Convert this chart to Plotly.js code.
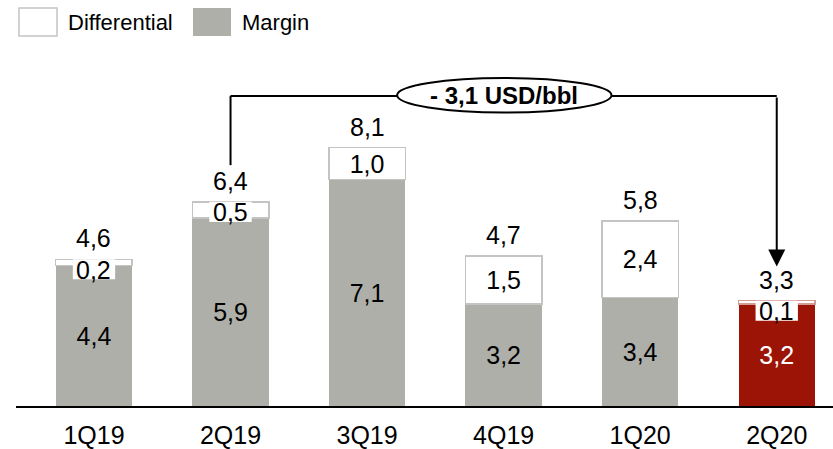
<!DOCTYPE html>
<html>
<head>
<meta charset="utf-8">
<script src="https://cdn.plot.ly/plotly-3.0.1.min.js"></script>
<style>html,body{margin:0;padding:0;background:#fff;}#chart{width:833px;height:449px;}</style>
</head>
<body>
<div id="chart"></div>
<script>
const categories = ['1Q19', '2Q19', '3Q19', '4Q19', '1Q20', '2Q20'];
const margin = [4.4, 5.9, 7.1, 3.2, 3.4, 3.2];
const differential = [0.2, 0.5, 1.0, 1.5, 2.4, 0.1];
const changeLabel = '- 3,1 USD/bbl';
const legendLabels = ['Differential', 'Margin'];

const FONT = "'Liberation Sans Narrow', 'Arial Narrow', 'Liberation Sans', Arial, sans-serif";
const FS = 25;
const GREY = '#aeafa9';
const RED = '#9c1406';
const fmt = v => v.toFixed(1).replace('.', ',');
const totals = margin.map((m, i) => Math.round((m + differential[i]) * 10) / 10);
const last = categories.length - 1;
const SMALL = 0.8;

const marginTrace = {
  type: 'bar', x: categories, y: margin, name: legendLabels[1],
  marker: { color: margin.map((_, i) => i === last ? RED : GREY), line: { width: 0 } },
  text: margin.map(fmt), textposition: 'inside', insidetextanchor: 'middle', textangle: 0,
  constraintext: 'none',
  textfont: { family: FONT, size: FS, color: margin.map((_, i) => i === last ? '#ffffff' : '#000000') },
  hoverinfo: 'skip'
};
const diffTrace = {
  type: 'bar', x: categories, y: differential, name: legendLabels[0],
  marker: { color: '#ffffff', line: { width: 1.5, color: differential.map((_, i) => i === last ? '#d49a94' : '#c4c4c4') } },
  text: differential.map(v => v < SMALL ? '' : fmt(v)), textposition: 'inside', insidetextanchor: 'middle', textangle: 0,
  constraintext: 'none',
  textfont: { family: FONT, size: FS, color: '#000000' },
  hoverinfo: 'skip'
};

const shapes = [];
const annotations = [];
// white label boxes for small differential values
differential.forEach((v, i) => {
  if (v < SMALL) {
    shapes.push({ type: 'rect', xref: 'x', yref: 'y', x0: i - 0.155, x1: i + 0.155,
      y0: totals[i] - 0.63, y1: totals[i], fillcolor: '#ffffff', line: { width: 0 }, layer: 'above' });
    annotations.push({ x: i, y: totals[i] - 0.33, xref: 'x', yref: 'y', text: fmt(v), showarrow: false,
      font: { family: FONT, size: FS, color: '#000' } });
  }
});
// totals
totals.forEach((t, i) => {
  annotations.push({ x: i, y: t, xref: 'x', yref: 'y', text: fmt(t), showarrow: false, yanchor: 'middle', yshift: 21,
    font: { family: FONT, size: FS, color: '#000' } });
});
// bracket from 2Q19 to 2Q20
const yTop = 9.72;
shapes.push({ type: 'line', xref: 'x', yref: 'y', x0: 1, x1: 1, y0: totals[1] + 1.15, y1: yTop, line: { color: '#000', width: 2 } });
shapes.push({ type: 'line', xref: 'x', yref: 'y', x0: 1, x1: last, y0: yTop, y1: yTop, line: { color: '#000', width: 2 } });
annotations.push({ x: last, y: totals[last] + 1.07, xref: 'x', yref: 'y', ax: last, ay: yTop, axref: 'x', ayref: 'y',
  text: '', showarrow: true, arrowhead: 2, arrowsize: 1.7, arrowwidth: 2, arrowcolor: '#000' });
shapes.push({ type: 'circle', xref: 'x', yref: 'y', x0: 2.22, x1: 3.79, y0: 9.2, y1: 10.28,
  fillcolor: '#ffffff', line: { color: '#000', width: 2 }, layer: 'above' });
annotations.push({ x: 3.0, y: 9.74, xref: 'x', yref: 'y', text: '<b>' + changeLabel + '</b>', showarrow: false,
  font: { family: FONT, size: 24, color: '#000' } });

// custom legend
const PW = 817, PH = 386;
const px = p => (p - 16) / PW;
const py = p => (406 - p) / PH;
shapes.push({ type: 'rect', xref: 'paper', yref: 'paper', x0: px(19), x1: px(57), y0: py(36), y1: py(8),
  fillcolor: '#ffffff', line: { color: '#c4c4c4', width: 1.5 } });
shapes.push({ type: 'rect', xref: 'paper', yref: 'paper', x0: px(193), x1: px(231), y0: py(36), y1: py(8),
  fillcolor: GREY, line: { width: 0 } });
annotations.push({ x: px(66), y: py(22), xref: 'paper', yref: 'paper', xanchor: 'left', yanchor: 'middle',
  text: legendLabels[0], showarrow: false, font: { family: FONT, size: 22, color: '#000' } });
annotations.push({ x: px(240), y: py(22), xref: 'paper', yref: 'paper', xanchor: 'left', yanchor: 'middle',
  text: legendLabels[1], showarrow: false, font: { family: FONT, size: 22, color: '#000' } });

const layout = {
  width: 833, height: 449,
  margin: { l: 16, r: 0, t: 20, b: 43 },
  barmode: 'stack', bargap: 0.44,
  showlegend: false,
  paper_bgcolor: '#ffffff', plot_bgcolor: '#ffffff',
  xaxis: { type: 'category', range: [-0.571, 5.412], showline: true, linecolor: '#000', linewidth: 2,
    ticks: '', ticklabelstandoff: 6, showgrid: false, zeroline: false, tickfont: { family: FONT, size: FS, color: '#000' }, fixedrange: true },
  yaxis: { range: [0, 12.1], visible: false, showgrid: false, zeroline: false, fixedrange: true },
  shapes: shapes, annotations: annotations,
  font: { family: FONT, color: '#000' }
};

Plotly.newPlot('chart', [marginTrace, diffTrace], layout, { displayModeBar: false, staticPlot: true });
</script>
</body>
</html>
